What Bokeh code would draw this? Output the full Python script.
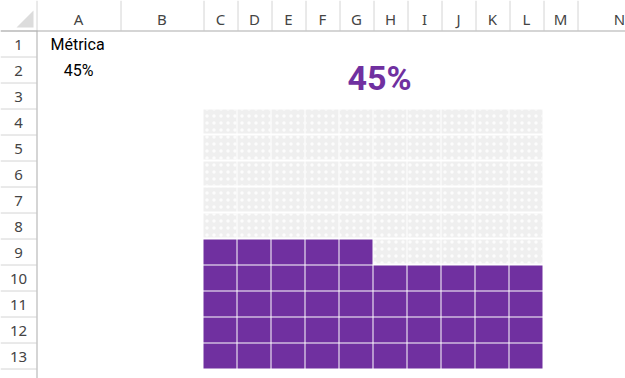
import numpy as np
from bokeh.plotting import figure
from bokeh.models import Range1d
from bokeh.embed import file_html
from bokeh.resources import INLINE
from bokeh.core.properties import value

# ---------------- data ----------------
metric_label = "Métrica"
metric_value = 0.45
metric_text = "45%"
column_letters = ["A", "B", "C", "D", "E", "F", "G", "H", "I", "J", "K", "L", "M", "N"]
row_numbers = list(range(1, 15))
waffle_rows = 10
waffle_cols = 10

# ---------------- layout ----------------
W, H = 625, 378
ROW_HDR_W = 36
COL_HDR_H = 30
ROW_H = 26
col_widths = [84, 83] + [34] * 11 + [84]
col_edges = np.concatenate([[ROW_HDR_W], ROW_HDR_W + np.cumsum(col_widths)])
row_edges = COL_HDR_H + ROW_H * np.arange(0, len(row_numbers) + 1)
PURPLE = "#7030A0"
GRAY = "#EFEFEF"
HDR_TXT = "#444444"

p = figure(width=W, height=H, x_range=Range1d(0, W), y_range=Range1d(H, 0),
           output_backend="svg", toolbar_location=None,
           x_axis_location=None, y_axis_location=None, min_border=0)
p.outline_line_color = None
p.xgrid.grid_line_color = None
p.ygrid.grid_line_color = None
p.background_fill_color = "white"
p.border_fill_color = "white"

# ---------------- sheet headers ----------------
p.segment(x0=col_edges + 0.5, y0=[0] * len(col_edges), x1=col_edges + 0.5,
          y1=[COL_HDR_H] * len(col_edges), line_color="#D4D4D4", line_width=1)
p.segment(x0=[0] * len(row_edges), y0=row_edges + 0.5, x1=[ROW_HDR_W] * len(row_edges),
          y1=row_edges + 0.5, line_color="#D4D4D4", line_width=1)
p.segment(x0=[0], y0=[COL_HDR_H + 0.5], x1=[W], y1=[COL_HDR_H + 0.5], line_color="#ABABAB", line_width=1)
p.segment(x0=[ROW_HDR_W + 0.5], y0=[COL_HDR_H], x1=[ROW_HDR_W + 0.5], y1=[H], line_color="#ABABAB", line_width=1)
p.patch(x=[16, 33, 33], y=[27, 10, 27], fill_color="#DCDCDC", line_color=None)

col_centers = (col_edges[:-1] + col_edges[1:]) / 2
p.text(x=col_centers, y=[18.5] * len(column_letters), text=column_letters,
       text_align="center", text_baseline="middle", text_color=HDR_TXT,
       text_font=value("Noto Sans"), text_font_size="15px")
p.text(x=[ROW_HDR_W / 2] * len(row_numbers), y=row_edges[1:] - 12,
       text=[str(r) for r in row_numbers], text_align="center", text_baseline="middle",
       text_color=HDR_TXT, text_font=value("Noto Sans"), text_font_size="15px")

# ---------------- cell contents ----------------
p.text(x=[col_edges[0] + 14], y=[row_edges[1] - 12.5], text=[metric_label],
       text_align="left", text_baseline="middle", text_color="#000000",
       text_font=value("Roboto"), text_font_size="16px")
p.text(x=[col_centers[0]], y=[row_edges[2] - 12.5], text=[metric_text],
       text_align="center", text_baseline="middle", text_color="#000000",
       text_font=value("Roboto"), text_font_size="16px")

# ---------------- waffle ----------------
n_cells = waffle_rows * waffle_cols
k = np.arange(n_cells)
n_filled = int(round(metric_value * n_cells))
filled = k < n_filled
r_from_bottom = k // waffle_cols
c_idx = k % waffle_cols
first_col = 2          # column C
last_row_idx = 12      # row 13 (0-based)
left = col_edges[first_col + c_idx]
right = left + 33
top = row_edges[last_row_idx - r_from_bottom] + 1
bottom = row_edges[last_row_idx - r_from_bottom + 1]

p.quad(left=left[~filled], right=right[~filled], top=top[~filled], bottom=bottom[~filled] - 1,
       fill_color=GRAY, line_color=None, hatch_pattern="dot", hatch_color="white",
       hatch_scale=7, hatch_weight=2, hatch_alpha=0.8)
p.quad(left=left[filled], right=right[filled], top=top[filled], bottom=bottom[filled],
       fill_color=PURPLE, line_color=None)

title_x = (col_edges[first_col] + col_edges[first_col + waffle_cols]) / 2 + 6
p.text(x=[title_x], y=[row_edges[2] - 4.5], text=[metric_text], text_align="center",
       text_baseline="middle", text_color=PURPLE, text_font=value("Roboto"),
       text_font_size="34px", text_font_style="bold")

open("out.html", "w").write(file_html(p, INLINE))
